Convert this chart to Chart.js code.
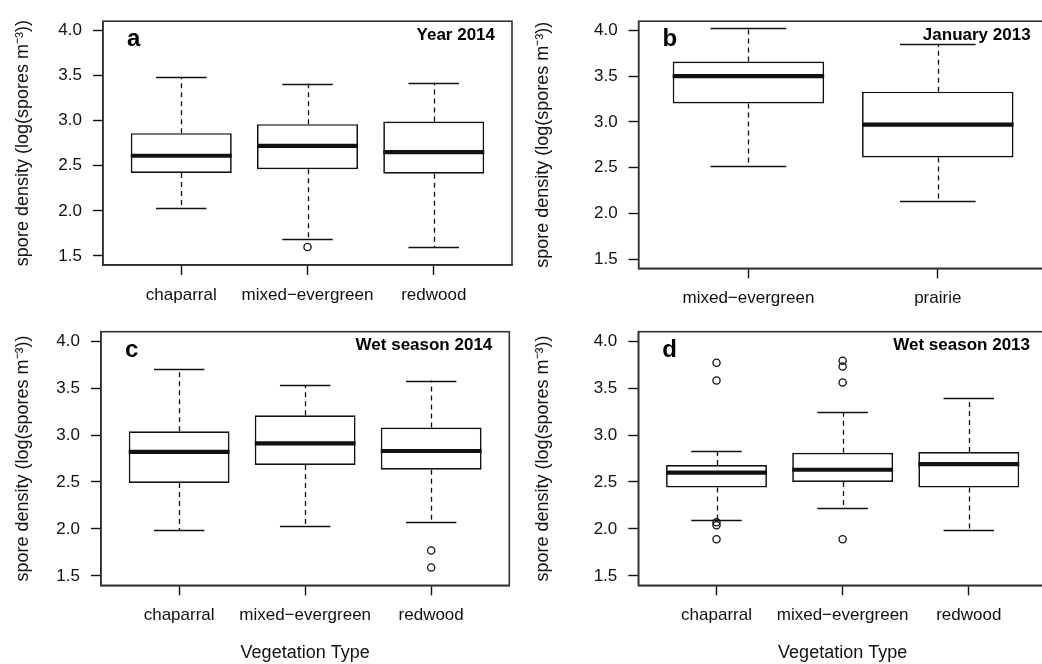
<!DOCTYPE html>
<html>
<head>
<meta charset="utf-8">
<script src="https://cdn.jsdelivr.net/npm/chart.js@4.4.1/dist/chart.umd.min.js"></script>
<style>
  html, body { margin: 0; padding: 0; background: #fff; }
  body { position: relative; width: 1042px; height: 664px; overflow: hidden; }
  canvas { position: absolute; }
</style>
</head>
<body>
<canvas id="chartA" width="520" height="320" style="left:0;top:0"></canvas>
<canvas id="chartB" width="540" height="320" style="left:520px;top:0"></canvas>
<canvas id="chartC" width="520" height="364" style="left:0;top:300px"></canvas>
<canvas id="chartD" width="540" height="364" style="left:520px;top:300px"></canvas>
<script>
// y axis ticks, shared by all four panels
const yTicks = [1.5, 2.0, 2.5, 3.0, 3.5, 4.0];

// a: Year 2014
const vegA = ['chaparral', 'mixed\u2212evergreen', 'redwood'];
const lowA = [2.03, 1.69, 1.60];
const q1A = [2.42, 2.46, 2.41];
const medA = [2.61, 2.72, 2.65];
const q3A = [2.86, 2.96, 2.99];
const highA = [3.48, 3.41, 3.42];
const outA = [[], [1.60], []];

// b: January 2013
const vegB = ['mixed\u2212evergreen', 'prairie'];
const lowB = [2.52, 2.14];
const q1B = [3.20, 2.61];
const medB = [3.50, 2.97];
const q3B = [3.66, 3.33];
const highB = [4.03, 3.85];
const outB = [[], []];

// c: Wet season 2014
const vegC = ['chaparral', 'mixed\u2212evergreen', 'redwood'];
const lowC = [1.99, 2.03, 2.07];
const q1C = [2.49, 2.68, 2.63];
const medC = [2.82, 2.91, 2.83];
const q3C = [3.04, 3.21, 3.08];
const highC = [3.70, 3.53, 3.58];
const outC = [[], [], [1.77, 1.59]];

// d: Wet season 2013
const vegD = ['chaparral', 'mixed\u2212evergreen', 'redwood'];
const lowD = [2.10, 2.22, 1.99];
const q1D = [2.44, 2.50, 2.44];
const medD = [2.60, 2.63, 2.69];
const q3D = [2.68, 2.81, 2.82];
const highD = [2.83, 3.24, 3.39];
const outD = [[3.77, 3.58, 2.07, 2.04, 1.89], [3.79, 3.73, 3.56, 1.89], []];

const FONT = "'Liberation Sans', Arial, Helvetica, sans-serif";
const INK = '#111';
Chart.defaults.color = INK;
Chart.defaults.font.family = FONT;

// whiskers, caps, medians, frame and panel labels, all placed through the chart scales
const boxExtras = {
  id: 'boxExtras',
  beforeDatasetsDraw(chart, args, o) {
    const xs = chart.scales.x, ys = chart.scales.y;
    const ctx = chart.ctx;
    ctx.save();
    ctx.strokeStyle = INK;
    ctx.lineWidth = 1.3;
    ctx.setLineDash([5, 4]);
    o.med.forEach((m, i) => {
      const x = Math.round(xs.getPixelForValue(i + 1)) + 0.5;
      ctx.beginPath();
      ctx.moveTo(x, ys.getPixelForValue(o.q3[i]));
      ctx.lineTo(x, ys.getPixelForValue(o.high[i]));
      ctx.moveTo(x, ys.getPixelForValue(o.q1[i]));
      ctx.lineTo(x, ys.getPixelForValue(o.low[i]));
      ctx.stroke();
    });
    ctx.restore();
  },
  afterDatasetsDraw(chart, args, o) {
    const xs = chart.scales.x, ys = chart.scales.y;
    const ctx = chart.ctx;
    const bars = chart.getDatasetMeta(0).data;
    const area = chart.chartArea;
    ctx.save();
    ctx.strokeStyle = INK;
    o.med.forEach((m, i) => {
      const x = xs.getPixelForValue(i + 1);
      const w = bars[i].width;
      // whisker caps, half the box width
      ctx.lineWidth = 1.5;
      ctx.beginPath();
      [o.high[i], o.low[i]].forEach(v => {
        const y = Math.round(ys.getPixelForValue(v)) + 0.5;
        ctx.moveTo(x - w / 4, y);
        ctx.lineTo(x + w / 4, y);
      });
      ctx.stroke();
      // median
      ctx.lineWidth = 4.2;
      ctx.beginPath();
      const ym = ys.getPixelForValue(m);
      ctx.moveTo(x - w / 2, ym);
      ctx.lineTo(x + w / 2, ym);
      ctx.stroke();
    });
    // plot frame
    ctx.lineWidth = 1.6;
    ctx.strokeStyle = '#333';
    ctx.strokeRect(area.left, area.top, area.right - area.left, area.bottom - area.top);
    // panel letter and title
    ctx.fillStyle = '#000';
    ctx.textBaseline = 'alphabetic';
    ctx.textAlign = 'left';
    ctx.font = 'bold 24px ' + FONT;
    ctx.fillText(o.letter, area.left + 24, area.top + 25);
    ctx.textAlign = 'right';
    ctx.font = 'bold 17px ' + FONT;
    ctx.fillText(o.title, area.right - 17, area.top + 18.5);
    ctx.restore();
  }
};

function makePanel(id, p) {
  const n = p.cats.length;
  const boxData = p.cats.map((c, i) => ({ x: i + 1, y: [p.q1[i], p.q3[i]] }));
  const outData = [];
  p.out.forEach((vals, i) => vals.forEach(v => outData.push({ x: i + 1, y: v })));

  return new Chart(document.getElementById(id), {
    type: 'bar',
    data: {
      datasets: [
        {
          data: boxData,
          backgroundColor: '#fff',
          borderColor: INK,
          borderWidth: 1.7,
          borderSkipped: false,
          categoryPercentage: 1,
          barPercentage: 0.8
        },
        {
          type: 'scatter',
          data: outData,
          pointStyle: 'circle',
          pointRadius: 3.6,
          pointBorderWidth: 1.3,
          borderColor: INK,
          backgroundColor: 'rgba(0,0,0,0)'
        }
      ]
    },
    options: {
      responsive: false,
      animation: false,
      events: [],
      layout: { padding: { left: 0, top: p.top, right: p.right, bottom: 0 } },
      plugins: {
        legend: { display: false },
        tooltip: { enabled: false },
        boxExtras: {
          low: p.low, q1: p.q1, med: p.med, q3: p.q3, high: p.high,
          letter: p.letter, title: p.title
        }
      },
      scales: {
        x: {
          type: 'linear',
          offset: false,
          min: 0.5 - 0.04 * n,
          max: n + 0.5 + 0.04 * n,
          afterBuildTicks: s => { s.ticks = p.cats.map((c, i) => ({ value: i + 1 })); },
          afterFit: s => { s.height = p.xHeight; },
          ticks: {
            autoSkip: false,
            maxRotation: 0,
            padding: 10,
            font: { size: 17 },
            callback: v => p.cats[v - 1]
          },
          grid: { offset: false, drawOnChartArea: false, drawTicks: true, tickLength: 10, tickColor: INK, tickWidth: 1.4 },
          border: { display: true, color: INK, width: 1.4 },
          title: {
            display: p.xTitle,
            text: 'Vegetation Type',
            font: { size: 18 },
            padding: { top: 0, bottom: 0 }
          }
        },
        y: {
          type: 'linear',
          min: 1.4,
          max: 4.1,
          afterBuildTicks: s => { s.ticks = yTicks.map(v => ({ value: v })); },
          afterFit: s => { s.width = p.yWidth; },
          ticks: {
            padding: 11,
            font: { size: 17 },
            callback: v => v.toFixed(1)
          },
          grid: { drawOnChartArea: false, drawTicks: true, tickLength: 10, tickColor: INK, tickWidth: 1.4 },
          border: { display: true, color: INK, width: 1.4 },
          title: {
            display: true,
            text: 'spore density (log(spores m\u207B\u00B3))',
            font: { size: 18 },
            padding: { top: 12, bottom: 0 }
          }
        }
      }
    },
    plugins: [boxExtras]
  });
}

makePanel('chartA', {
  cats: vegA, low: lowA, q1: q1A, med: medA, q3: q3A, high: highA, out: outA,
  letter: 'a', title: 'Year 2014', xTitle: false,
  top: 12, right: 8, yWidth: 103, xHeight: 55
});
makePanel('chartB', {
  cats: vegB, low: lowB, q1: q1B, med: medB, q3: q3B, high: highB, out: outB,
  letter: 'b', title: 'January 2013', xTitle: false,
  top: 15, right: 12.4, yWidth: 118.6, xHeight: 51.7
});
makePanel('chartC', {
  cats: vegC, low: lowC, q1: q1C, med: medC, q3: q3C, high: highC, out: outC,
  letter: 'c', title: 'Wet season 2014', xTitle: true,
  top: 31.7, right: 10.7, yWidth: 101, xHeight: 78.7
});
makePanel('chartD', {
  cats: vegD, low: lowD, q1: q1D, med: medD, q3: q3D, high: highD, out: outD,
  letter: 'd', title: 'Wet season 2013', xTitle: true,
  top: 31.7, right: 13, yWidth: 118.3, xHeight: 78.7
});
</script>
</body>
</html>
